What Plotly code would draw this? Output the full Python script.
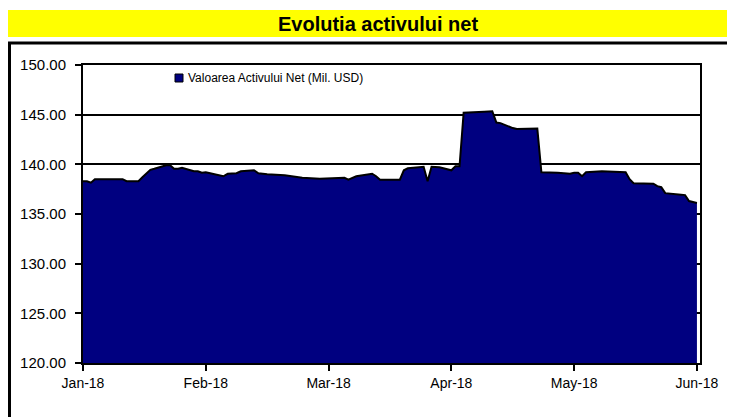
import plotly.graph_objects as go
import pandas as pd

title_text = "Evolutia activului net"
series_name = "Valoarea Activului Net (Mil. USD)"

dates = [
    "2018-01-01", "2018-01-02", "2018-01-03", "2018-01-04", "2018-01-05", "2018-01-08",
    "2018-01-10", "2018-01-11", "2018-01-12", "2018-01-15", "2018-01-16", "2018-01-17",
    "2018-01-18", "2018-01-19", "2018-01-22", "2018-01-23", "2018-01-24", "2018-01-25",
    "2018-01-26", "2018-01-29", "2018-01-30", "2018-01-31", "2018-02-01", "2018-02-02",
    "2018-02-05", "2018-02-06", "2018-02-07", "2018-02-08", "2018-02-09", "2018-02-12",
    "2018-02-13", "2018-02-15", "2018-02-19", "2018-02-21", "2018-02-23", "2018-02-27",
    "2018-03-01", "2018-03-05", "2018-03-06", "2018-03-08", "2018-03-12", "2018-03-13",
    "2018-03-14", "2018-03-19", "2018-03-20", "2018-03-21", "2018-03-25", "2018-03-26",
    "2018-03-27", "2018-03-29", "2018-04-01", "2018-04-02", "2018-04-03", "2018-04-04",
    "2018-04-09", "2018-04-11", "2018-04-12", "2018-04-13", "2018-04-16", "2018-04-17",
    "2018-04-22", "2018-04-23", "2018-04-27", "2018-04-30", "2018-05-01", "2018-05-02",
    "2018-05-03", "2018-05-04", "2018-05-08", "2018-05-10", "2018-05-14", "2018-05-15",
    "2018-05-16", "2018-05-21", "2018-05-22", "2018-05-23", "2018-05-24", "2018-05-28",
    "2018-05-29", "2018-05-30", "2018-06-01",
]
values = [
    138.30, 138.30, 138.15, 138.50, 138.50, 138.50,
    138.55, 138.50, 138.30, 138.30, 138.70, 139.10,
    139.45, 139.55, 139.90, 139.90, 139.55, 139.55,
    139.65, 139.30, 139.30, 139.15, 139.20, 139.10,
    138.80, 139.05, 139.05, 139.10, 139.30, 139.40,
    139.10, 139.00, 138.90, 138.80, 138.65, 138.55,
    138.60, 138.65, 138.45, 138.80, 139.05, 138.80,
    138.45, 138.45, 139.40, 139.60, 139.75, 138.30,
    139.75, 139.70, 139.40, 139.80, 139.80, 145.20,
    145.30, 145.35, 144.20, 144.15, 143.65, 143.55,
    143.60, 139.20, 139.15, 139.05, 139.15, 139.15,
    138.80, 139.20, 139.30, 139.25, 139.20, 138.50,
    138.10, 138.05, 137.80, 137.70, 137.10, 136.95,
    136.90, 136.30, 136.10,
]

month_ticks = ["Jan-18", "Feb-18", "Mar-18", "Apr-18", "May-18", "Jun-18"]
y_ticks = [120, 125, 130, 135, 140, 145, 150]

# Month-based axis (equal spacing per month, like the source chart)
d = pd.to_datetime(dates)
xpos = [(t.month - 1) + (t.day - 1) / t.days_in_month for t in d]

NAVY = "#000080"

# page offset (browser body margin) compensation
OFF = 8
W, H = 735 - OFF, 417 - OFF
L = 83 - OFF
T = 65 - OFF
R = W - (700 - OFF)
B = H - (363 - OFF)
pw, ph = W - L - R, H - T - B


def px_x(p):
    return (p - OFF - L) / pw


def px_y(p):
    return (H - B - (p - OFF)) / ph


fig = go.Figure()
fig.add_trace(go.Scatter(
    x=xpos, y=values, mode="lines", fill="tozeroy",
    fillcolor=NAVY, line=dict(color="black", width=2),
    showlegend=False, hoverinfo="skip",
))

fig.update_layout(
    width=W, height=H,
    margin=dict(l=L, r=R, t=T, b=B),
    paper_bgcolor="white", plot_bgcolor="white",
    font=dict(family="Liberation Sans, Arial, sans-serif", color="black", size=14),
    showlegend=False,
    xaxis=dict(
        range=[0, 5.025], tickmode="array", tickvals=list(range(len(month_ticks))),
        ticktext=month_ticks, showgrid=False, zeroline=False,
        showline=True, linecolor="black", linewidth=2, mirror=True,
        ticks="outside", ticklen=6, tickwidth=2, tickcolor="black",
        tickfont=dict(size=14),
    ),
    yaxis=dict(
        range=[120, 150], tickmode="array", tickvals=y_ticks,
        ticktext=[f"{v:.2f}" for v in y_ticks],
        showgrid=True, gridcolor="black", gridwidth=1.5, zeroline=False,
        showline=True, linecolor="black", linewidth=2, mirror=True,
        ticks="outside", ticklen=6, tickwidth=2, tickcolor="black",
        tickfont=dict(size=15), ticklabelstandoff=6,
    ),
    shapes=[
        dict(type="rect", xref="paper", yref="paper",
             x0=px_x(0), x1=px_x(760), y0=px_y(37), y1=px_y(10),
             fillcolor="#FFFF00", line=dict(width=0), layer="below"),
        dict(type="rect", xref="paper", yref="paper",
             x0=px_x(9.5), x1=px_x(780), y0=px_y(460), y1=px_y(43),
             fillcolor="rgba(0,0,0,0)", line=dict(color="black", width=3)),
        # legend swatch
        dict(type="rect", xref="paper", yref="paper",
             x0=px_x(175), x1=px_x(183), y0=px_y(82), y1=px_y(74),
             fillcolor=NAVY, line=dict(color="black", width=1)),
    ],
    annotations=[
        dict(text=f"<b>{title_text}</b>", xref="paper", yref="paper",
             x=px_x(378), y=px_y(24), xanchor="center", yanchor="middle",
             showarrow=False, font=dict(size=20, color="black")),
        dict(text=series_name, xref="paper", yref="paper",
             x=px_x(186), y=px_y(78), xanchor="left", yanchor="middle",
             showarrow=False, font=dict(size=12, color="black")),
    ],
)

fig.write_html("out.html")
